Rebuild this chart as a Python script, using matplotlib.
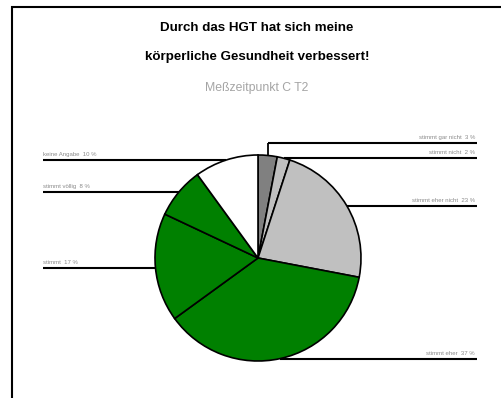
import numpy as np
import matplotlib
matplotlib.use("Agg")
import matplotlib.pyplot as plt
from matplotlib.patches import Rectangle

plt.rcParams['font.family'] = ['Liberation Sans', 'DejaVu Sans']

# Antworten (Reihenfolge im Uhrzeigersinn ab 12 Uhr) und Anteile in %
categories = ["stimmt gar nicht", "stimmt nicht", "stimmt eher nicht",
              "stimmt eher", "stimmt", "stimmt völlig", "keine Angabe"]
values = [3, 2, 23, 37, 17, 8, 10]
colors = ["#808080", "#c0c0c0", "#c0c0c0", "#008000", "#008000", "#008000", "#ffffff"]
label_side = ["right", "right", "right", "right", "left", "left", "left"]

W, H = 501, 398
fig = plt.figure(figsize=(W / 100, H / 100), dpi=100)
ax = fig.add_axes([0, 0, 1, 1])

cx, cy, r = 258, H - 258, 103
wedges, _ = ax.pie(values, colors=colors, startangle=90, counterclock=False,
                   center=(cx, cy), radius=r,
                   wedgeprops=dict(edgecolor="black", linewidth=1.2))
ax.set_xlim(0, W)
ax.set_ylim(0, H)
ax.set_aspect("equal")
ax.axis("off")

# Beschriftungslinien vom Mittelpunkt jedes Segmentbogens
x_right, x_left = 477, 43
elbow = {0: H - 143}
total = sum(values)
for i, w in enumerate(wedges):
    mid = np.deg2rad((w.theta1 + w.theta2) / 2)
    px, py = cx + r * np.cos(mid), cy + r * np.sin(mid)
    ly = elbow.get(i, py)
    if i in elbow:
        ax.plot([px, px], [py, ly], color="black", lw=1.3, solid_capstyle="butt")
    text = f"{categories[i]}  {values[i] / total * 100:.0f} %"
    if label_side[i] == "right":
        ax.plot([px, x_right], [ly, ly], color="black", lw=1.5, solid_capstyle="butt")
        ax.text(x_right - 2, ly + 3, text, ha="right", va="bottom",
                fontsize=4.3, color="#8a8a8a")
    else:
        ax.plot([x_left, px], [ly, ly], color="black", lw=1.5, solid_capstyle="butt")
        ax.text(x_left, ly + 3, text, ha="left", va="bottom",
                fontsize=4.3, color="#8a8a8a")

# Rahmen
fig.patches.append(Rectangle((12, -10), W, H - 7 + 10, transform=None,
                             fill=False, edgecolor="black", linewidth=1.5))

fig.text(257 / W, 1 - 28 / H, "Durch das HGT hat sich meine", ha="center", va="center",
         fontsize=9.6, fontweight="bold", color="black")
fig.text(257 / W, 1 - 57 / H, "körperliche Gesundheit verbessert!", ha="center", va="center",
         fontsize=9.6, fontweight="bold", color="black")
fig.text(257 / W, 1 - 88 / H, "Meßzeitpunkt C T2", ha="center", va="center",
         fontsize=8.8, color="#a5a5a5")

fig.savefig("out.png", dpi=100)
